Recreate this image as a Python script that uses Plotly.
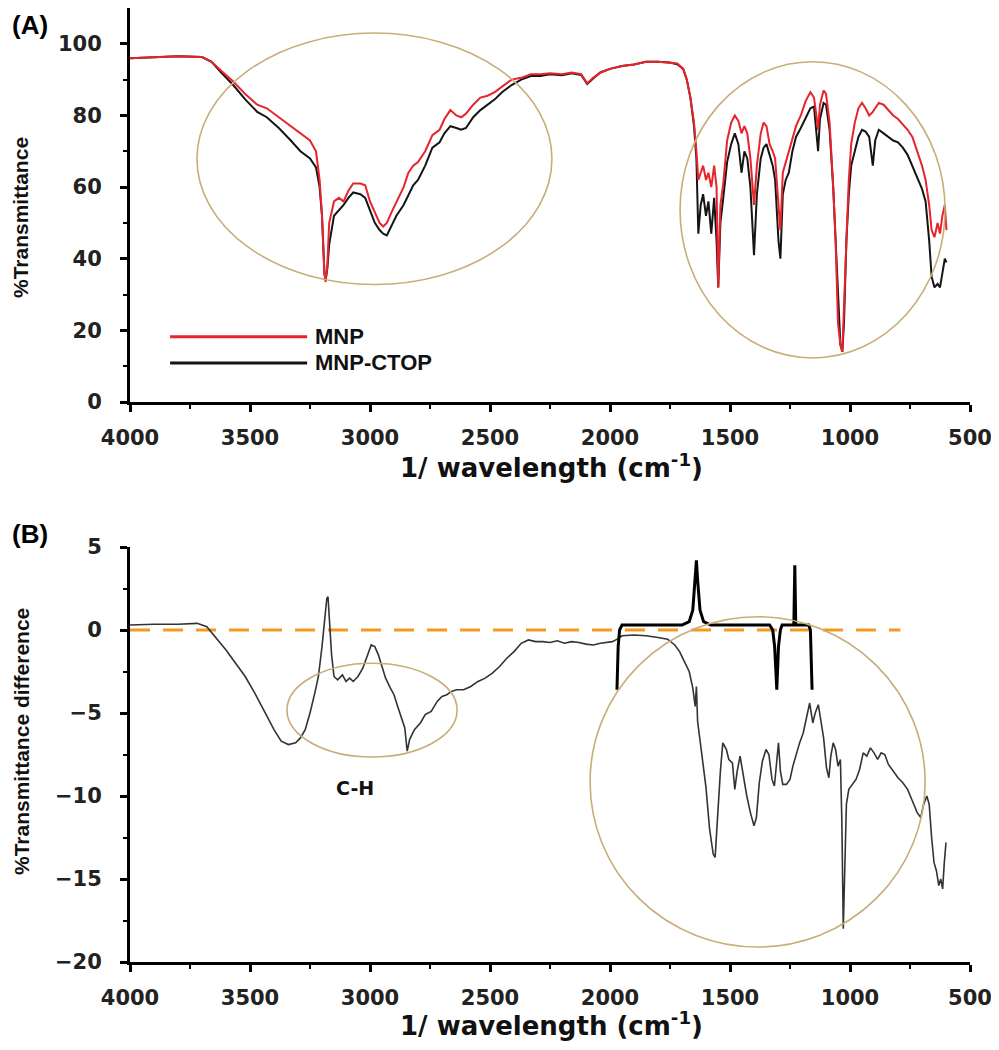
import plotly.graph_objects as go

# ---------------- Panel A data ----------------
wn_a = [4000, 3900, 3800, 3700, 3660, 3620, 3570, 3520, 3470, 3430, 3380, 3330, 3290, 3250, 3225, 3210,
        3200, 3190, 3185, 3178, 3170, 3150, 3130, 3110, 3090, 3070, 3040, 3020, 3000, 2980, 2960, 2945,
        2930, 2910, 2890, 2860, 2840, 2820, 2800, 2770, 2740, 2710, 2690, 2665, 2640, 2620, 2600, 2570,
        2540, 2510, 2480, 2450, 2410, 2370, 2330, 2290, 2250, 2200, 2160, 2120, 2095, 2070, 2040, 2000,
        1950, 1900, 1850, 1800, 1750, 1720, 1695, 1680, 1665, 1650, 1640, 1632, 1622, 1612, 1600, 1590,
        1578, 1566, 1556, 1549, 1540, 1528, 1512, 1495, 1480, 1465, 1452, 1440, 1428, 1415, 1400, 1388,
        1372, 1360, 1348, 1335, 1322, 1312, 1298, 1290, 1280, 1268, 1255, 1240, 1225, 1205, 1185, 1165,
        1150, 1140, 1133, 1125, 1110, 1100, 1085, 1070, 1060, 1050, 1040, 1032, 1025, 1015, 1005, 995,
        980, 965, 950, 935, 920, 905, 895, 880, 860, 840, 820, 800, 780, 760, 740, 720,
        700, 685, 670, 660, 648, 635, 625, 615, 605, 598]
mnp = [96, 96.2, 96.5, 96.3, 95, 92.5, 89.5, 86, 83, 82, 79.5, 77, 75, 73, 70, 62,
       52, 36, 33.5, 38, 50, 56, 57, 56, 59, 61, 61, 60.5, 56, 53, 50, 49,
       50, 53, 56, 60, 64, 66, 67, 70, 74.5, 76, 79, 81.5, 80, 79.5, 80.5, 83,
       85, 85.5, 86.5, 88, 90, 90.5, 91.5, 91.5, 91.8, 91.5, 92, 91.5, 89, 90.5, 92, 93,
       93.8, 94.2, 95, 95, 94.8, 94.5, 93, 90, 85, 78, 70, 62, 64, 66, 62, 64,
       60, 66, 60, 32, 55, 61, 73, 78, 80, 78.5, 75, 77, 75, 68, 55, 66,
       75, 78, 77, 72, 70, 68, 55, 48, 64, 67, 70, 74, 77, 80, 84, 86.5,
       85, 80, 76, 83, 87, 86, 78, 60, 45, 22, 16, 14, 25, 45, 62, 72,
       78, 82, 83.5, 82, 80, 81, 82, 83.5, 83, 81.5, 80, 79, 77.5, 76, 74, 70,
       66, 62, 55, 48, 46, 50, 47, 52, 55, 48]
ctop = [96, 96.2, 96.5, 96.3, 95, 92, 88.5, 84.5, 81, 79.5, 76.5, 73, 70, 68, 65.5, 60,
        52, 36, 34, 37, 44, 52, 53.5, 55, 57, 58.5, 58, 57, 53.5, 50, 48, 47,
        46.5, 49.5, 52, 55, 58, 60.5, 62, 66, 71, 72.5, 75, 77, 76.5, 76, 76.5, 79.5,
        81.5, 83, 84.5, 86.5, 88.5, 90, 91, 91, 91.5, 91.2, 91.8, 91.3, 88.8, 90.3, 92, 93,
        93.8, 94.2, 95, 95, 94.8, 94.3, 93, 90, 85, 77, 68, 47, 55, 58, 52, 56,
        47, 57, 45, 32, 50, 57, 67, 72, 75, 72, 64, 70, 68, 60, 41, 58,
        68, 71, 72, 69, 66, 62, 45, 40, 58, 62, 64, 70, 74, 76.5, 79.5, 82,
        82.5, 75, 70, 79, 83.5, 83, 76, 60, 45, 28, 16, 14, 22, 45, 58, 66,
        70, 74, 76, 75.5, 74, 66, 73, 76, 75, 74, 73, 72.5, 71, 69, 66, 63,
        59.5, 56, 45, 35, 32, 33, 32, 36, 40, 39]

# ---------------- Panel B data ----------------
wn_b = [4000, 3900, 3800, 3720, 3680, 3640, 3600, 3560, 3520, 3480, 3440, 3400, 3370, 3340, 3310, 3290,
        3270, 3250, 3230, 3215, 3200, 3190, 3180, 3175, 3168, 3160, 3150, 3135, 3115, 3100, 3085, 3070,
        3050, 3030, 3010, 2995, 2980, 2965, 2950, 2935, 2915, 2900, 2885, 2870, 2855, 2845, 2835, 2815,
        2790, 2770, 2745, 2720, 2700, 2680, 2660, 2640, 2610, 2580, 2550, 2520, 2490, 2460, 2430, 2400,
        2370, 2340, 2310, 2280, 2250, 2220, 2190, 2160, 2130, 2100, 2070, 2040, 2010, 1990, 1970, 1950,
        1900, 1850, 1800, 1760, 1730, 1710, 1690, 1670, 1655, 1645, 1640, 1635, 1620, 1600, 1585, 1570,
        1562, 1552, 1540, 1530, 1515, 1505, 1490, 1480, 1470, 1458, 1445, 1430, 1415, 1400, 1390, 1378,
        1365, 1350, 1338, 1325, 1315, 1305, 1298, 1290, 1280, 1265, 1250, 1238, 1225, 1210, 1195, 1180,
        1168, 1155, 1145, 1132, 1120, 1110, 1098, 1088, 1080, 1070, 1060, 1050, 1040, 1034, 1028, 1022,
        1015, 1005, 990, 975, 960, 945, 930, 915, 900, 885, 870, 855, 840, 820, 800, 780,
        760, 740, 720, 705, 695, 680, 670, 660, 650, 640, 630, 622, 614, 607, 600]
diff = [0.3, 0.35, 0.35, 0.4, 0.2, -0.5, -1.2, -2.0, -2.8, -3.8, -4.9, -6.0, -6.7, -6.9, -6.8, -6.5,
        -6.0, -5.0, -3.8, -2.8, -1.0, 0.5, 1.9, 2.0, 0.5, -1.5, -2.8, -3.0, -2.7, -3.1, -2.9, -3.1,
        -2.8, -2.3, -1.5, -0.9, -1.0, -1.5, -2.2, -2.9, -3.5, -3.9, -4.6, -5.3, -5.9, -7.3, -6.6, -6.0,
        -5.6, -5.1, -4.9, -4.3, -4.0, -3.9, -3.7, -3.6, -3.6, -3.4, -3.1, -2.9, -2.6, -2.2, -1.7, -1.3,
        -0.8, -0.6, -0.7, -0.7, -0.75, -0.65, -0.8, -0.7, -0.75, -0.85, -0.9, -0.8, -0.75, -0.7, -0.55, -0.35,
        -0.3, -0.35, -0.45, -0.55, -0.9, -1.3, -1.9, -2.5, -3.5, -4.6, -3.4, -5.5, -7.2, -9.5, -12.0, -13.5,
        -13.7, -11.0, -8.5, -6.8, -7.2, -7.8, -8.0, -9.6, -8.5, -7.6, -8.8, -10.0, -11.0, -11.8, -11.3, -9.2,
        -7.9, -7.2, -7.5, -9.0, -9.4, -8.0, -6.8, -8.5, -9.3, -9.3, -9.0, -8.2, -7.5, -6.8, -6.2, -5.3,
        -4.4, -5.6, -5.0, -4.5, -5.6, -6.5, -8.3, -8.9, -7.6, -6.8, -7.2, -8.2, -7.8, -11.5, -18.0, -14.0,
        -10.5, -9.6, -9.3, -9.0, -8.4, -7.4, -7.6, -7.1, -7.4, -7.8, -7.4, -7.5, -8.1, -8.5, -8.9, -9.2,
        -9.6, -10.3, -11.0, -11.3, -10.6, -10.0, -10.5, -12.5, -14.0, -14.5, -15.4, -15.0, -15.6, -14.0, -12.8]

# reference band markers (H-O-H, O-H)
wn_ref = [1971, 1966, 1960, 1950, 1700, 1670, 1655, 1645, 1640, 1635, 1625, 1610, 1580, 1335, 1322,
          1314, 1305, 1298, 1290, 1283, 1234, 1230, 1226, 1172, 1165, 1158]
ref = [-3.6, -1.0, 0.0, 0.3, 0.3, 0.5, 1.2, 3.0, 4.2, 3.0, 1.2, 0.5, 0.3, 0.3, 0.0,
       -1.0, -3.6, -1.0, 0.0, 0.3, 0.3, 3.9, 0.3, 0.3, 0.0, -3.6]

zero_x = [4000, 790]
zero_y = [0, 0]

x_ticks = [4000, 3500, 3000, 2500, 2000, 1500, 1000, 500]
x_minor = [3750, 3250, 2750, 2250, 1750, 1250, 750]
ya_ticks = [0, 20, 40, 60, 80, 100]
ya_minor = [10, 30, 50, 70, 90]
yb_ticks = [-20, -15, -10, -5, 0, 5]
yb_minor = [-17.5, -12.5, -7.5, -2.5, 2.5]

RED = "#e8232b"
BLACK = "#151515"
TAN = "#c9ad78"
ORANGE = "#f39a1e"

# figure size (page body keeps an 8px margin)
W, H, OFF = 983, 1034, 8


def px(X):
    return (X - OFF) / W


def py(Y):
    return 1 - (Y - OFF) / H


fig = go.Figure()
fig.add_trace(go.Scatter(x=wn_a, y=ctop, mode="lines", line=dict(color=BLACK, width=2),
                         name="MNP-CTOP", xaxis="x", yaxis="y"))
fig.add_trace(go.Scatter(x=wn_a, y=mnp, mode="lines", line=dict(color=RED, width=2),
                         name="MNP", xaxis="x", yaxis="y"))
fig.add_trace(go.Scatter(x=zero_x, y=zero_y, mode="lines", line=dict(color=ORANGE, width=3, dash="20px,13px"),
                         xaxis="x2", yaxis="y2", name="zero"))
fig.add_trace(go.Scatter(x=wn_b, y=diff, mode="lines", line=dict(color="#333333", width=1.6),
                         xaxis="x2", yaxis="y2", name="difference"))
fig.add_trace(go.Scatter(x=wn_ref, y=ref, mode="lines", line=dict(color="#000000", width=3),
                         xaxis="x2", yaxis="y2", name="reference"))

tickfont = dict(family="DejaVu Sans", size=21, color="#222222", weight="bold")
xdom = [px(130), px(970)]


def xax(anchor):
    return dict(domain=xdom, anchor=anchor, range=[4000, 500], autorange=False,
                automargin=False, ticklabeloverflow="allow",
                tickmode="array", tickvals=x_ticks, ticks="outside", ticklen=7, tickwidth=2.5,
                tickcolor="black", showline=True, linewidth=3, linecolor="black",
                showgrid=False, zeroline=False, tickfont=tickfont, ticklabelstandoff=8,
                minor=dict(tickmode="array", tickvals=x_minor, ticks="outside", ticklen=4,
                           tickwidth=2, tickcolor="black", showgrid=False))


def yax(anchor, dom, rng, tv, mv):
    return dict(domain=dom, anchor=anchor, range=rng, autorange=False,
                automargin=False, ticklabeloverflow="allow",
                tickmode="array", tickvals=tv, ticks="outside", ticklen=7, tickwidth=2.5,
                tickcolor="black", showline=True, linewidth=3, linecolor="black",
                showgrid=False, zeroline=False, tickfont=tickfont, ticklabelstandoff=14,
                minor=dict(tickmode="array", tickvals=mv, ticks="outside", ticklen=4,
                           tickwidth=2, tickcolor="black", showgrid=False))


shapes = [
    dict(type="circle", xref="x", yref="y", x0=3721, x1=2242, y0=32.8, y1=103,
         line=dict(color=TAN, width=1.6)),
    dict(type="circle", xref="x", yref="y", x0=1708, x1=604, y0=12.3, y1=95,
         line=dict(color=TAN, width=1.6)),
    dict(type="circle", xref="x2", yref="y2", x0=3346, x1=2637, y0=-7.65, y1=-2.0,
         line=dict(color=TAN, width=1.6)),
    dict(type="circle", xref="x2", yref="y2", x0=2083, x1=687, y0=-19.1, y1=0.8,
         line=dict(color=TAN, width=1.6)),
    # legend samples
    dict(type="line", xref="x", yref="y", x0=3833, x1=3262, y0=18.2, y1=18.2,
         line=dict(color=RED, width=3)),
    dict(type="line", xref="x", yref="y", x0=3833, x1=3262, y0=10.9, y1=10.9,
         line=dict(color=BLACK, width=3)),
]

lab = dict(family="Liberation Sans", size=26, color="black", weight="bold")
xt = dict(family="DejaVu Sans", size=26, color="#111111", weight="bold")
yt = dict(family="Liberation Sans", size=21, color="#111111", weight="bold")
ann_font = dict(family="DejaVu Sans", size=19, color="#111111", weight="bold")
leg_font = dict(family="Liberation Sans", size=22, color="#111111", weight="bold")

annotations = [
    dict(text="(A)", xref="paper", yref="paper", x=px(10), y=py(25), xanchor="left", yanchor="middle",
         showarrow=False, font=lab),
    dict(text="(B)", xref="paper", yref="paper", x=px(10), y=py(534), xanchor="left", yanchor="middle",
         showarrow=False, font=lab),
    dict(text="1/ wavelength (cm<sup>-1</sup>)", xref="paper", yref="paper", x=px(551), y=py(466),
         xanchor="center", yanchor="middle", showarrow=False, font=xt),
    dict(text="1/ wavelength (cm<sup>-1</sup>)", xref="paper", yref="paper", x=px(551), y=py(1024),
         xanchor="center", yanchor="middle", showarrow=False, font=xt),
    dict(text="%Transmittance", xref="paper", yref="paper", x=px(21), y=py(218), textangle=-90,
         xanchor="center", yanchor="middle", showarrow=False, font=yt),
    dict(text="%Transmittance difference", xref="paper", yref="paper", x=px(21), y=py(742), textangle=-90,
         xanchor="center", yanchor="middle", showarrow=False, font=yt),
    dict(text="C-H", xref="x2", yref="y2", x=3062, y=-9.5, xanchor="center", yanchor="middle",
         showarrow=False, font=ann_font),
    dict(text="H-O-H", xref="x2", yref="y2", x=1629, y=5.4, xanchor="center", yanchor="middle",
         showarrow=False, font=ann_font),
    dict(text="O-H", xref="x2", yref="y2", x=1208, y=5.25, xanchor="center", yanchor="middle",
         showarrow=False, font=ann_font),
    dict(text="MNP", xref="x", yref="y", x=3237, y=18.2, xanchor="left", yanchor="middle",
         showarrow=False, font=leg_font),
    dict(text="MNP-CTOP", xref="x", yref="y", x=3237, y=10.9, xanchor="left", yanchor="middle",
         showarrow=False, font=leg_font),
]

fig.update_layout(
    width=W, height=H,
    margin=dict(l=0, r=0, t=0, b=0),
    paper_bgcolor="white", plot_bgcolor="white",
    showlegend=False,
    xaxis=xax("y"),
    yaxis=yax("x", [py(402), py(8)], [0, 110], ya_ticks, ya_minor),
    xaxis2=xax("y2"),
    yaxis2=yax("x2", [py(962), py(547)], [-20, 5], yb_ticks, yb_minor),
    shapes=shapes,
    annotations=annotations,
)

fig.write_html("out.html")
